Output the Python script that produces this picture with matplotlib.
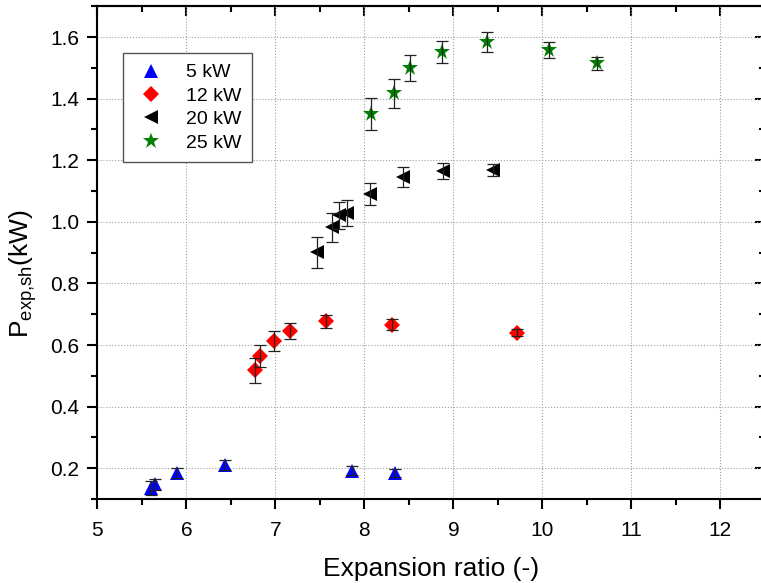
import numpy as np
import matplotlib
matplotlib.use("Agg")
import matplotlib.pyplot as plt
from matplotlib.ticker import MultipleLocator

plt.rcParams["font.family"] = ["Liberation Sans", "DejaVu Sans"]
plt.rcParams["mathtext.fontset"] = "custom"
plt.rcParams["mathtext.rm"] = "Liberation Sans"
plt.rcParams["mathtext.it"] = "Liberation Sans:italic"

# shaft power vs expansion ratio, one series per heat input
ratio_5 = [5.60, 5.65, 5.90, 6.44, 7.86, 8.34]
power_5 = [0.135, 0.148, 0.184, 0.210, 0.192, 0.185]
err_5 = [0.022, 0.018, 0.016, 0.016, 0.014, 0.014]

ratio_12 = [6.77, 6.83, 6.99, 7.17, 7.57, 8.31, 9.71]
power_12 = [0.518, 0.564, 0.614, 0.646, 0.677, 0.666, 0.640]
err_12 = [0.040, 0.036, 0.032, 0.026, 0.021, 0.017, 0.012]

ratio_20 = [7.47, 7.64, 7.72, 7.81, 8.06, 8.43, 8.88, 9.45]
power_20 = [0.901, 0.982, 1.022, 1.030, 1.090, 1.145, 1.165, 1.169]
err_20 = [0.050, 0.046, 0.044, 0.042, 0.036, 0.032, 0.026, 0.020]

ratio_25 = [8.07, 8.33, 8.51, 8.87, 9.38, 10.08, 10.61]
power_25 = [1.351, 1.418, 1.501, 1.551, 1.583, 1.558, 1.515]
err_25 = [0.052, 0.047, 0.042, 0.036, 0.032, 0.027, 0.021]

series = [
    ("5 kW", ratio_5, power_5, err_5, "^", "#0000ff", 10),
    ("12 kW", ratio_12, power_12, err_12, "D", "#ff0000", 8),
    ("20 kW", ratio_20, power_20, err_20, "<", "#000000", 10),
    ("25 kW", ratio_25, power_25, err_25, "*", "#008000", 12),
]

fig = plt.figure(figsize=(7.61, 5.83), dpi=100)
ax = fig.add_axes([0.1279, 0.1441, 0.8771, 0.8451])

for label, x, y, e, mk, col, ms in series:
    ax.plot(x, y, linestyle="none", marker=mk, color=col, markersize=ms,
            markeredgewidth=0, label=label, zorder=2)
    ax.errorbar(x, y, yerr=e, fmt="none", ecolor="#222222", elinewidth=0.9,
                capsize=4, capthick=0.9, zorder=3)

ax.set_xlim(5, 12.5)
ax.set_ylim(0.1, 1.7)
ax.xaxis.set_major_locator(MultipleLocator(1))
ax.xaxis.set_minor_locator(MultipleLocator(0.5))
ax.yaxis.set_minor_locator(MultipleLocator(0.1))
ax.set_yticks(np.arange(0.2, 1.61, 0.2))

ax.grid(True, which="major", color="#a0a0a0", linestyle=":", linewidth=0.8)
ax.set_axisbelow(True)

for sp in ax.spines.values():
    sp.set_linewidth(1.5)

ax.tick_params(which="both", direction="out", width=1.5, labelsize=15,
               top=False, right=False)
ax.tick_params(which="major", length=7, pad=6)
ax.tick_params(axis="x", which="major", pad=9)
ax.tick_params(which="minor", length=4)

# inward ticks on the mirrored top/right axes
sec_x = ax.secondary_xaxis("top")
sec_x.xaxis.set_major_locator(MultipleLocator(1))
sec_x.xaxis.set_minor_locator(MultipleLocator(0.5))
sec_x.tick_params(which="both", direction="in", width=1.5, labeltop=False)
sec_x.tick_params(which="major", length=7)
sec_x.tick_params(which="minor", length=4)
sec_x.spines["top"].set_linewidth(1.5)
sec_y = ax.secondary_yaxis("right")
sec_y.yaxis.set_major_locator(MultipleLocator(0.2))
sec_y.yaxis.set_minor_locator(MultipleLocator(0.1))
sec_y.tick_params(which="both", direction="in", width=1.5, labelright=False)
sec_y.tick_params(which="major", length=7)
sec_y.tick_params(which="minor", length=4)

ax.set_xlabel("Expansion ratio (-)", fontsize=19, labelpad=12)
ax.set_ylabel(r"P$_{\mathrm{exp{,}sh}}$(kW)", fontsize=19)
ax.yaxis.set_label_coords(-0.088, 0.457)

leg = ax.legend(loc="upper left", bbox_to_anchor=(0.0385, 0.905),
                borderaxespad=0, fontsize=14, fancybox=False,
                edgecolor="#555555", framealpha=1, labelspacing=0.3,
                handlelength=1.8, handletextpad=0.9, borderpad=0.55)
leg.get_frame().set_linewidth(1.0)

fig.savefig("out.png", dpi=100)
